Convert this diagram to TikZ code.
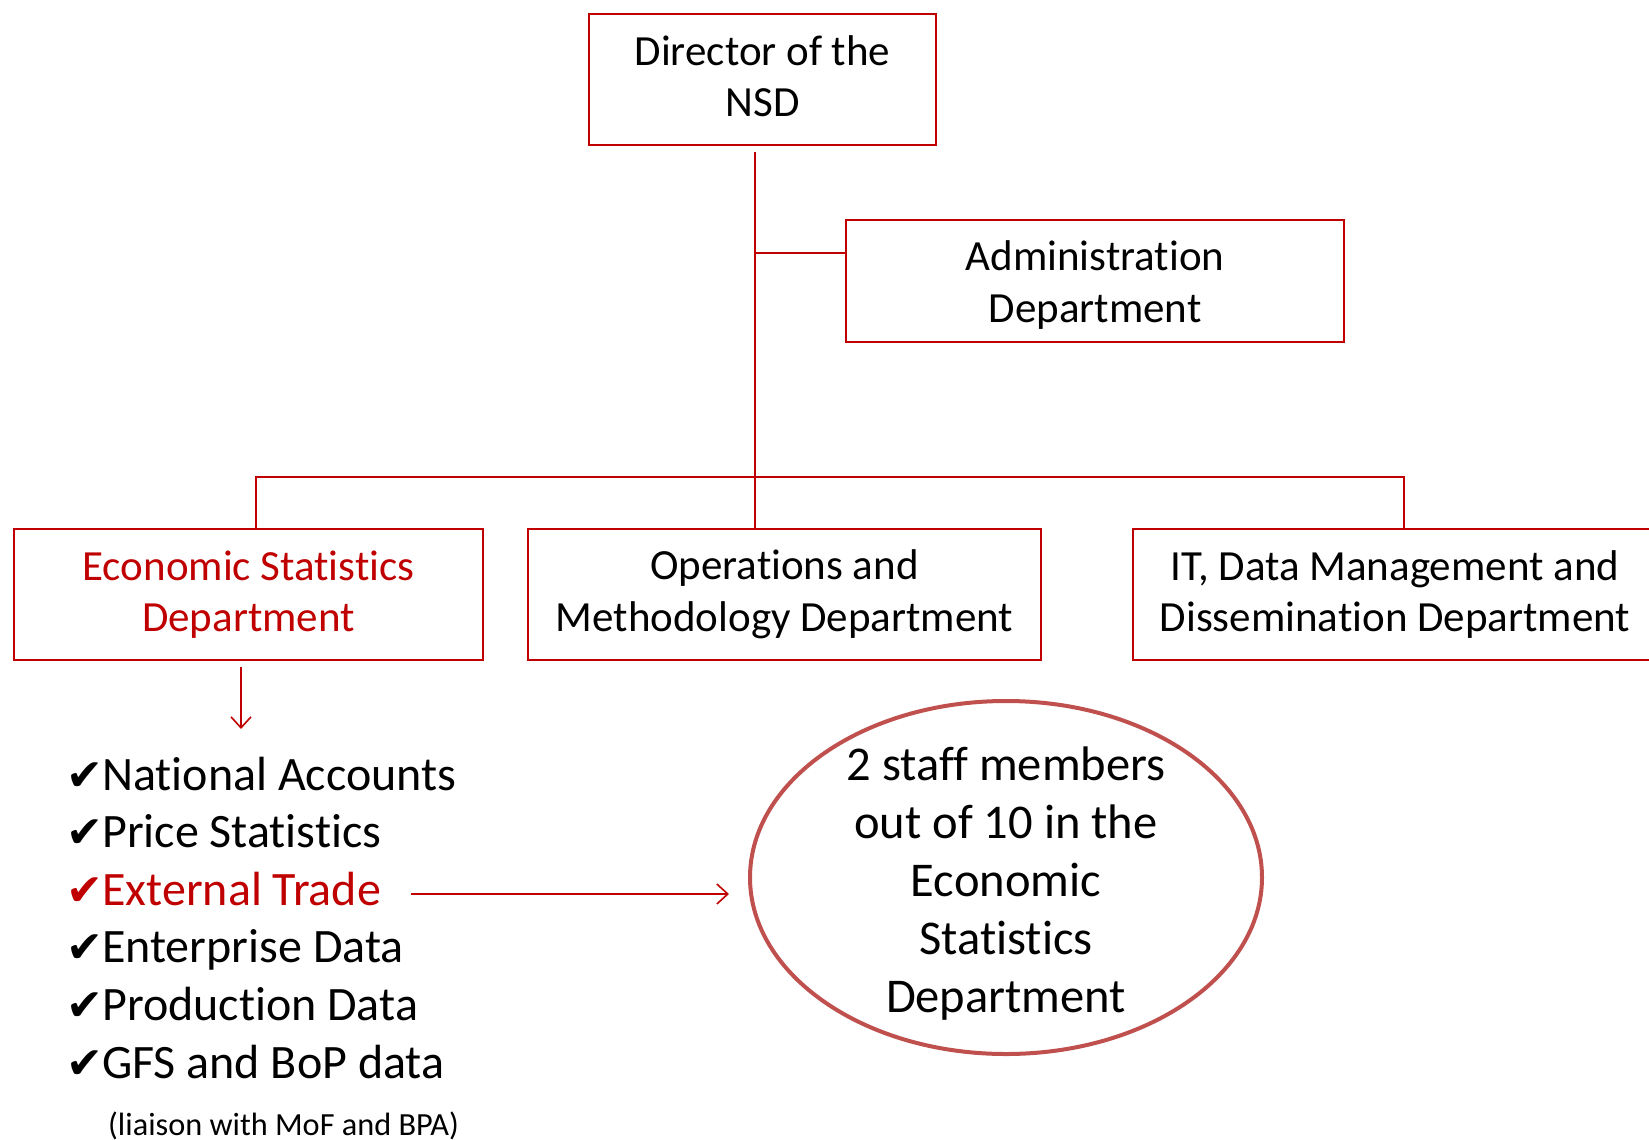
\documentclass[tikz,border=0pt]{standalone}
\usepackage{fontspec}
\setmainfont{Carlito}[Ligatures=NoCommon]
\newfontfamily\chkfont{DejaVu Sans}
\usetikzlibrary{arrows.meta,shapes.geometric}
\definecolor{boxred}{HTML}{C00000}
\definecolor{ellred}{HTML}{C0504D}
\newcommand\chk{\makebox[36pt][l]{\chkfont\fontsize{44}{44}\selectfont ✔}}
\begin{document}
\begin{tikzpicture}[x=1pt,y=-1pt,
  box/.style={draw=boxred,line width=2pt,inner sep=0pt,align=center,font=\fontsize{43}{51.5}\selectfont},
  link/.style={draw=boxred,line width=2pt},
  arr/.style={draw=boxred,line width=1.6pt,-{Straight Barb[length=11pt,width=20pt]}},
  item/.style={anchor=base west,inner sep=0pt,font=\fontsize{48}{55}\selectfont},
]
\clip (0,0) rectangle (1649,1140);
\fill[white] (0,0) rectangle (1649,1140);

\node[box,minimum width=347pt,minimum height=131pt] (dir) at (762.5,79.5) {\raisebox{-1pt}[\height][\depth]{\begin{tabular}{@{}c@{}}Director of the\\NSD\end{tabular}}};
\node[box,minimum width=498pt,minimum height=122pt] (adm) at (1095,281) {\raisebox{-5pt}[\height][\depth]{\begin{tabular}{@{}c@{}}Administration\\Department\end{tabular}}};
\node[box,minimum width=469pt,minimum height=131pt,text=boxred] (eco) at (248.5,594.5) {Economic Statistics\\Department};
\node[box,minimum width=513pt,minimum height=131pt] (ops) at (784.5,594.5) {Operations and\\Methodology Department};
\node[box,minimum width=524pt,minimum height=131pt] (it) at (1395,594.5) {IT, Data Management and\\Dissemination Department};

\coordinate (tr) at (755,0);
\coordinate (aj) at (755,253);
\coordinate (bl) at (256,477);
\coordinate (br) at (1404,477);
\draw[link] (dir.south -| tr) ++(0,6) -- (ops.north -| tr);
\draw[link] (aj) -- (aj -| adm.west);
\draw[link] (eco.north -| bl) -- (bl) -- (br) -- (it.north -| br);

\coordinate (dtip) at (241,729);
\draw[arr] (eco.south -| dtip) ++(0,6) -- (dtip);

\node[item] (na) at (66,790) {\chk National Accounts};
\node[item] (ps) at (66,847.6) {\chk Price Statistics};
\node[item,text=boxred] (et) at (66,905.2) {\chk External Trade};
\node[item] (ed) at (66,962.8) {\chk Enterprise Data};
\node[item] (pd) at (66,1020.4) {\chk Production Data};
\node[item] (gf) at (66,1078) {\chk GFS and BoP data};
\node[anchor=base west,inner sep=0pt,font=\fontsize{32.3}{36}\selectfont] (lia) at (108,1135) {(liaison with MoF and BPA)};

\node[draw=ellred,line width=4pt,ellipse,minimum width=512pt,minimum height=353pt,inner sep=0pt] (ell) at (1006,877.5) {};
\node[align=center,inner sep=0pt,font=\fontsize{48.5}{58}\selectfont] (ellt) at ([yshift=-6pt]ell.center) {2 staff members\\out of 10 in the\\Economic\\Statistics\\Department};

\coordinate (etip) at (729,894);
\draw[arr] (et.east |- etip) ++(30,0) -- (etip);
\end{tikzpicture}
\end{document}
